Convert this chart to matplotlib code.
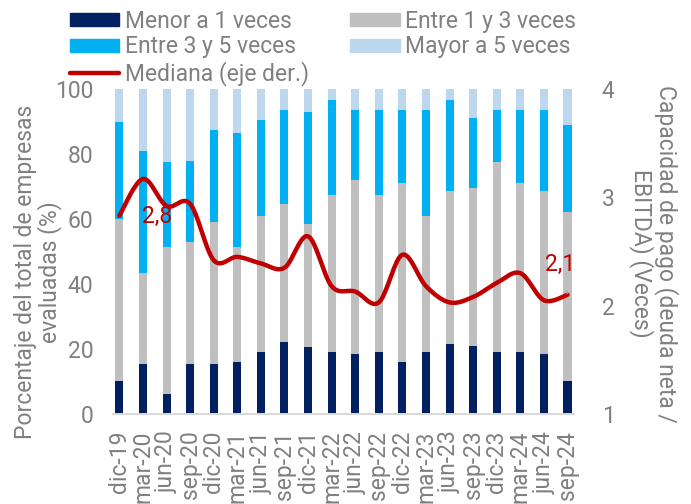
import matplotlib
matplotlib.use("Agg")
import matplotlib.pyplot as plt
import numpy as np
from matplotlib.patches import Patch
from matplotlib.lines import Line2D

plt.rcParams["font.family"] = ["Roboto", "DejaVu Sans"]

# Data
periodos = ["dic-19", "mar-20", "jun-20", "sep-20", "dic-20", "mar-21", "jun-21",
            "sep-21", "dic-21", "mar-22", "jun-22", "sep-22", "dic-22", "mar-23",
            "jun-23", "sep-23", "dic-23", "mar-24", "jun-24", "sep-24"]
menor_1 = [10, 15.5, 6, 15.5, 15.5, 16, 19, 22, 20.5, 19, 18.5, 19, 16, 19,
           21.5, 21, 19, 19, 18.5, 10]
entre_1_3 = [50, 28, 45.5, 37.5, 43.5, 35.5, 42, 42.5, 38, 48.5, 53.5, 48.5,
             55, 42, 47, 48.5, 58.5, 52, 50, 52]
entre_3_5 = [30, 37.5, 26, 25, 28.5, 35, 29.5, 29, 34.5, 29, 21.5, 26, 22.5,
             32.5, 28, 21.5, 16, 22.5, 25, 27]
mayor_5 = [10, 19, 22.5, 22, 12.5, 13.5, 9.5, 6.5, 7, 3.5, 6.5, 6.5, 6.5, 6.5,
           3.5, 9, 6.5, 6.5, 6.5, 11]
mediana = [2.83, 3.17, 2.92, 2.94, 2.42, 2.45, 2.39, 2.35, 2.64, 2.18, 2.13,
           2.03, 2.47, 2.18, 2.03, 2.08, 2.21, 2.30, 2.05, 2.10]

c_dark = "#002060"
c_gray = "#BFBFBF"
c_cyan = "#00B0F0"
c_light = "#BDD7EE"
c_red = "#C00000"
c_text = "#808080"
fs = 16.5


def smooth(x, y, n=20):
    # Catmull-Rom curve through the points (Excel-like smoothed line)
    p = np.column_stack([x, y]).astype(float)
    p = np.vstack([p[0], p, p[-1]])
    out = []
    t = np.linspace(0, 1, n, endpoint=False)[:, None]
    for i in range(1, len(p) - 2):
        p0, p1, p2, p3 = p[i - 1], p[i], p[i + 1], p[i + 2]
        seg = 0.5 * ((2 * p1) + (-p0 + p2) * t
                     + (2 * p0 - 5 * p1 + 4 * p2 - p3) * t ** 2
                     + (-p0 + 3 * p1 - 3 * p2 + p3) * t ** 3)
        out.append(seg)
    out.append(p[-2][None, :])
    out = np.vstack(out)
    return out[:, 0], out[:, 1]


fig = plt.figure(figsize=(6.91, 5.04), dpi=100)
ax = fig.add_axes([0.1635, 0.1786, 0.667, 0.6448])
ax2 = ax.twinx()

x = np.arange(len(periodos))
w = 0.34
b1 = np.array(menor_1)
b2 = b1 + np.array(entre_1_3)
b3 = b2 + np.array(entre_3_5)
ax.bar(x, menor_1, w, color=c_dark, zorder=2)
ax.bar(x, entre_1_3, w, bottom=b1, color=c_gray, zorder=2)
ax.bar(x, entre_3_5, w, bottom=b2, color=c_cyan, zorder=2)
ax.bar(x, mayor_5, w, bottom=b3, color=c_light, zorder=2)

sx, sy = smooth(x, mediana)
ax2.plot(sx, sy, color=c_red, lw=3.2, solid_capstyle="round", zorder=3)

ax.set_xlim(-0.27, len(periodos) - 0.73)
ax.set_ylim(0, 100)
ax.set_yticks(range(0, 101, 20))
ax2.set_ylim(1, 4)
ax2.set_yticks([1, 2, 3, 4])

ax.set_xticks(x)
ax.set_xticklabels(periodos, rotation=90)

for a in (ax, ax2):
    for s in ("top", "left", "right"):
        a.spines[s].set_visible(False)
    a.spines["bottom"].set_color("#D9D9D9")
    a.spines["bottom"].set_linewidth(1.2)
ax.tick_params(axis="x", length=0, pad=12, labelsize=fs, labelcolor=c_text)
ax.tick_params(axis="y", length=0, pad=14, labelsize=fs, labelcolor=c_text)
ax2.tick_params(axis="y", length=0, pad=20, labelsize=fs, labelcolor=c_text)

# Data labels
ax2.text(1.6, 2.82, "2,8", color=c_red, fontsize=fs, ha="center", va="center")
ax2.annotate("2,1", xy=(x[-1], mediana[-1]), xytext=(18.7, 2.38),
             color=c_red, fontsize=fs, ha="center", va="center",
             arrowprops=dict(arrowstyle="-", color="#A6A6A6", lw=1,
                             shrinkA=9, shrinkB=1))

# Axis titles
fig.text(0.055, 0.46, "Porcentaje del total de empresas\nevaluadas (%)",
         rotation=90, ha="center", va="center", multialignment="center",
         fontsize=fs, color=c_text, linespacing=1.0)
fig.text(0.947, 0.497, "Capacidad de pago (deuda neta /\nEBITDA) (Veces)",
         rotation=270, ha="center", va="center", multialignment="center",
         fontsize=fs, color=c_text, linespacing=1.0)

# Legend (ordered so rows read left to right)
handles = [
    Patch(color=c_dark, label="Menor a 1 veces"),
    Patch(color=c_cyan, label="Entre 3 y 5 veces"),
    Line2D([], [], color=c_red, lw=3.2, solid_capstyle="round",
           label="Mediana (eje der.)"),
    Patch(color=c_gray, label="Entre 1 y 3 veces"),
    Patch(color=c_light, label="Mayor a 5 veces"),
]
leg = fig.legend(handles=handles, ncol=2, loc="upper left",
                 bbox_to_anchor=(0.078, 1.012), frameon=False, fontsize=fs,
                 handlelength=2.15, handleheight=0.5, handletextpad=0.25,
                 columnspacing=1.8, labelspacing=0.1, borderpad=0.2)
for t in leg.get_texts():
    t.set_color(c_text)

fig.savefig("out.png", dpi=100)
